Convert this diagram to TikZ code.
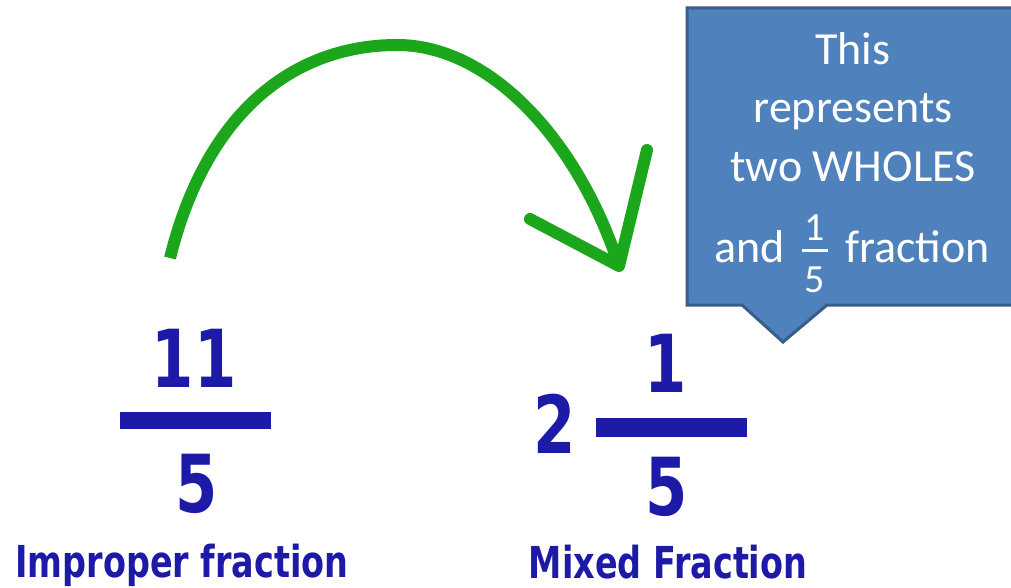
\documentclass[tikz,border=0pt]{standalone}
\usepackage{fontspec}
\usepackage{tikz}
\usetikzlibrary{positioning}

\newfontfamily\bluefont{DejaVu Sans Bold}[FakeStretch=0.76]
\newfontfamily\calloutfont{Carlito}

\definecolor{fracblue}{RGB}{30,26,168}
\definecolor{arcgreen}{RGB}{28,166,28}
\definecolor{calloutfill}{RGB}{79,129,189}
\definecolor{calloutedge}{RGB}{56,93,138}

% small stacked fraction for the callout line
\newcommand{\calfrac}[2]{\makebox[40pt]{%
  \makebox[0pt]{\raisebox{22pt}{\fontsize{40}{40}\selectfont #1}}%
  \makebox[0pt]{\raisebox{-30pt}{\fontsize{40}{40}\selectfont #2}}%
  \makebox[0pt]{\rule[10.5pt]{26pt}{3pt}}}}

\tikzset{
  digit/.style={anchor=base, inner sep=0pt, text=fracblue, font=\bluefont\fontsize{80}{80}\selectfont},
  fraclabel/.style={anchor=base, inner sep=0pt, text=fracblue, font=\bluefont\fontsize{44}{44}\selectfont},
  fracbar/.style={fill=fracblue},
  calloutline/.style={anchor=base, inner sep=0pt, text=white, font=\calloutfont\fontsize{46}{46}\selectfont},
  calloutbox/.style={fill=calloutfill, draw=calloutedge, line width=3pt, line join=miter},
  greenarc/.style={draw=arcgreen, line width=12pt},
}

\begin{document}
\begin{tikzpicture}[x=1pt, y=-1pt]
	\useasboundingbox (0,0) rectangle (1011,588);
	\fill[white] (0,0) rectangle (1011,588);

	% the green arrow
	\coordinate (arcstart) at (170,258);
	\coordinate (arctop) at (397,45);
	\coordinate (arctip) at (619,266);
	\coordinate (wingl) at (530,219);
	\coordinate (wingr) at (647,150);
	\draw[greenarc] (arcstart) .. controls (208,105) and (300,45) .. (arctop) .. controls (490,45) and (578,140) .. (arctip);
	\draw[greenarc, line cap=round, line join=round] (wingl) -- (arctip) -- (wingr);

	% callout
	\draw[calloutbox] (687,8) -- (1016,8) -- (1016,305) -- (827,305) -- (783,342) -- (742,305) -- (687,305) -- cycle;
	\node[calloutline] (cthis) at (853,65) {This};
	\node[calloutline] (crep) at (853,123) {represents};
	\node[calloutline] (ctwo) at (853,182) {two WHOLES};
	\node[calloutline] (cand) at (852,262) {and \calfrac{1}{5} fraction};

	% improper fraction
	\node[digit] (impnum) at (194,387) {11};
	\fill[fracbar] (120,412) rectangle (271,429);
	\node[digit] (impden) at (197,512) {5};
	\node[fraclabel] (implabel) at (182,577) {Improper fraction};

	% mixed fraction
	\node[digit] (mixwhole) at (555,453) {2};
	\node[digit] (mixnum) at (666,392) {1};
	\fill[fracbar] (596,418) rectangle (747,437);
	\node[digit] (mixden) at (667,515) {5};
	\node[fraclabel] (mixlabel) at (668,578) {Mixed Fraction};
\end{tikzpicture}
\end{document}
